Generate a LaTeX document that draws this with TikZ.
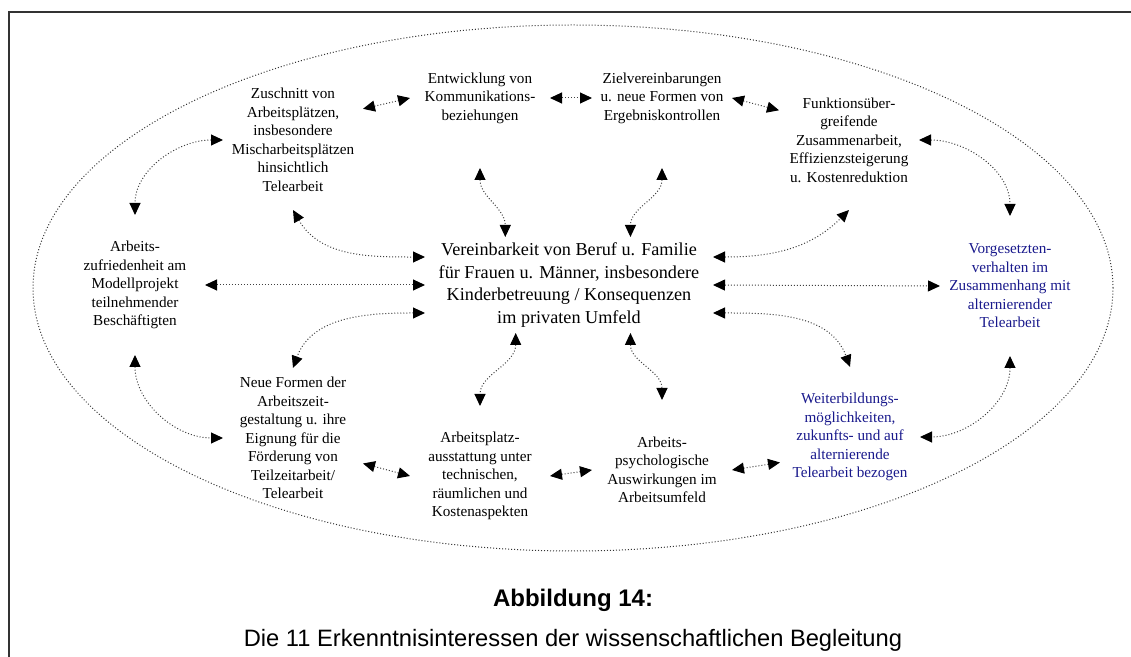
\documentclass[tikz,border=0pt]{standalone}
\usepackage{fontspec}
\setmainfont{Liberation Serif}
\setsansfont{Liberation Sans}
\usetikzlibrary{arrows.meta}
\definecolor{vblau}{RGB}{25,25,140}

\begin{document}
\begin{tikzpicture}[x=0.5pt,y=0.5pt,
    thema/.style={align=center,inner sep=0pt,outer sep=0pt,minimum width=70pt,minimum height=70pt,
      font=\fontsize{7.6}{9.25}\selectfont},
    bezug/.style={densely dotted,line width=0.5pt,black!75,
      {Triangle[length=6pt,width=5.5pt,color=black]}-{Triangle[length=6pt,width=5.5pt,color=black]}}]
                \useasboundingbox (0,0) rectangle (1131,-657);
                \draw[line width=1pt,black!80] (9,-657) -- (9,-12) -- (1131,-12);
                \draw[densely dotted,line width=0.5pt,black!80] (573,-288) ellipse [x radius=540,y radius=263];
                % Themen
                \node[thema] (zusch) at (293,-140) {Zuschnitt von\\Arbeitsplätzen,\\insbesondere\\Mischarbeitsplätzen\\hinsichtlich\\Telearbeit};
                \node[thema] (entw) at (480,-98) {Entwicklung von\\Kommunikations-\\beziehungen};
                \node[thema] (ziel) at (662,-98) {Zielvereinbarungen\\u. neue Formen von\\Ergebniskontrollen};
                \node[thema] (funkt) at (849,-140) {Funktionsüber-\\greifende\\Zusammenarbeit,\\Effizienzsteigerung\\u. Kostenreduktion};
                \node[thema] (zufr) at (135,-285) {Arbeits-\\zufriedenheit am\\Modellprojekt\\teilnehmender\\Beschäftigten};
                \node[thema,minimum width=144pt,minimum height=48pt,font=\fontsize{9.1}{11.4}\selectfont] (zentral) at (569,-285)
                  {Vereinbarkeit von Beruf u. Familie\\für Frauen u. Männer, insbesondere\\Kinderbetreuung / Konsequenzen\\im privaten Umfeld};
                \node[thema,text=vblau] (vorg) at (1010,-286) {Vorgesetzten-\\verhalten im\\Zusammenhang mit\\alternierender\\Telearbeit};
                \node[thema] (neue) at (293,-438) {Neue Formen der\\Arbeitszeit-\\gestaltung u. ihre\\Eignung für die\\Förderung von\\Teilzeitarbeit/\\Telearbeit};
                \node[thema] (platz) at (480,-476) {Arbeitsplatz-\\ausstattung unter\\technischen,\\räumlichen und\\Kostenaspekten};
                \node[thema] (psych) at (662,-470) {Arbeits-\\psychologische\\Auswirkungen im\\Arbeitsumfeld};
                \node[thema,text=vblau] (weiter) at (850,-437) {Weiterbildungs-\\möglichkeiten,\\zukunfts- und auf\\alternierende\\Telearbeit bezogen};
                % Bezuege
                \draw[bezug] (zusch.24) -- (entw.west);
                \draw[bezug] (entw.east) -- (ziel.west);
                \draw[bezug] (ziel.east) -- (funkt.157);
                \draw[bezug] (zusch.west) to[out=180,in=90] (zufr.north);
                \draw[bezug] (zusch.south) to[out=-60,in=180] (zentral.169);
                \draw[bezug] (zufr.east) -- (zentral.west);
                \draw[bezug] (entw.south) to[out=-90,in=90] (zentral.143);
                \draw[bezug] (ziel.south) to[out=-90,in=90] (zentral.38);
                \draw[bezug] (zentral.11) to[out=0,in=-135] (funkt.south);
                \draw[bezug] (funkt.east) to[out=0,in=90] (vorg.north);
                \draw[bezug] (zentral.east) -- (vorg.west);
                \draw[bezug] (vorg.south) to[out=-90,in=0] (weiter.east);
                \draw[bezug] (zentral.-11) to[out=0,in=110] (weiter.north);
                \draw[bezug] (zentral.191) to[out=180,in=70] (neue.north);
                \draw[bezug] (zufr.south) to[out=-90,in=180] (neue.west);
                \draw[bezug] (neue.-20) -- (platz.west);
                \draw[bezug] (platz.east) -- (psych.west);
                \draw[bezug] (psych.east) -- (weiter.200);
                \draw[bezug] (zentral.222) to[out=-90,in=90] (platz.north);
                \draw[bezug] (zentral.322) to[out=-90,in=90] (psych.north);
                % Unterschrift
                \node[font=\sffamily\bfseries\fontsize{12}{14}\selectfont] (abb) at (573,-600) {Abbildung 14:};
                \node[font=\sffamily\fontsize{11.85}{14}\selectfont] (titel) at (573,-640) {Die 11 Erkenntnisinteressen der wissenschaftlichen Begleitung};
            \end{tikzpicture}
\end{document}
